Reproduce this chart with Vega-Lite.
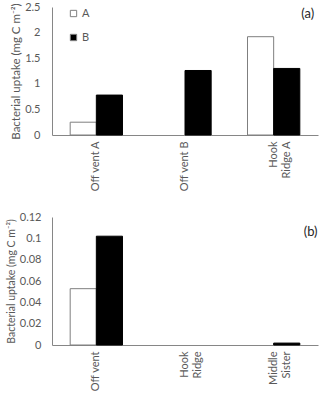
{
  "$schema": "https://vega.github.io/schema/vega-lite/v6.json",
  "padding": {"left": 6, "top": 1, "right": 5, "bottom": 5},
  "config": {
    "view": {"stroke": null},
    "font": "Lato",
    "concat": {"spacing": 19},
    "axis": {
      "labelFont": "Lato", "titleFont": "Lato",
      "labelColor": "#595959", "titleColor": "#595959",
      "domainColor": "#868686", "ticks": false, "grid": false,
      "labelFontSize": 11, "titleFontSize": 11.5, "titleFontWeight": "normal",
      "labelOverlap": false, "titlePadding": 3
    },
    "legend": {"labelFont": "Lato", "labelColor": "#595959", "labelFontSize": 11}
  },
  "vconcat": [
    {
      "width": 266, "height": 128,
      "layer": [
        {
          "data": {"values": [
            {"site": "Off vent A", "series": "A", "uptake": 0.25},
            {"site": "Off vent A", "series": "B", "uptake": 0.78},
            {"site": "Off vent B", "series": "B", "uptake": 1.26},
            {"site": "Hook|Ridge A", "series": "A", "uptake": 1.92},
            {"site": "Hook|Ridge A", "series": "B", "uptake": 1.30}
          ]},
          "mark": {"type": "bar", "strokeWidth": 1},
          "encoding": {
            "x": {"field": "site", "type": "nominal", "sort": null,
              "scale": {"domain": ["Off vent A", "Off vent B", "Hook|Ridge A"], "paddingInner": 0.41, "paddingOuter": 0.205},
              "axis": {"title": null, "labelAngle": -90, "labelPadding": 6, "labelExpr": "split(datum.value, '|')"}},
            "xOffset": {"field": "series", "type": "nominal", "scale": {"domain": ["A", "B"]}},
            "y": {"field": "uptake", "type": "quantitative",
              "scale": {"domain": [0, 2.5], "nice": false},
              "axis": {"title": "Bacterial uptake (mg C m⁻²)", "values": [0, 0.5, 1, 1.5, 2, 2.5], "labelExpr": "format(datum.value, '~g')", "labelPadding": 12, "labelOverlap": false, "labelFlush": false, "labelBound": false}},
            "fill": {"field": "series", "type": "nominal",
              "scale": {"domain": ["A", "B"], "range": ["#ffffff", "#000000"]},
              "legend": {"title": null, "orient": "none", "legendX": 16, "legendY": 1, "symbolType": "square", "symbolSize": 40, "symbolStrokeColor": "#7f7f7f", "symbolStrokeWidth": 1, "rowPadding": 12, "labelOffset": 3}},
            "stroke": {"field": "series", "type": "nominal",
              "scale": {"domain": ["A", "B"], "range": ["#7f7f7f", "#000000"]}, "legend": null}
          }
        },
        {
          "data": {"values": [{"label": "(a)"}]},
          "mark": {"type": "text", "fontSize": 13, "font": "Lato", "color": "#262626", "dx": 34},
          "encoding": {
            "x": {"datum": "Hook|Ridge A", "type": "nominal",
              "axis": {"title": null, "labelAngle": -90, "labelPadding": 6, "labelExpr": "split(datum.value, '|')"}},
            "y": {"datum": 2.36, "type": "quantitative",
              "axis": {"title": "Bacterial uptake (mg C m⁻²)", "values": [0, 0.5, 1, 1.5, 2, 2.5], "labelExpr": "format(datum.value, '~g')", "labelPadding": 12, "labelOverlap": false, "labelFlush": false, "labelBound": false}},
            "text": {"field": "label"}
          }
        }
      ]
    },
    {
      "width": 266, "height": 128,
      "layer": [
        {
          "data": {"values": [
            {"site": "Off vent", "series": "A", "uptake": 0.0528},
            {"site": "Off vent", "series": "B", "uptake": 0.102},
            {"site": "Middle|Sister", "series": "B", "uptake": 0.0018}
          ]},
          "mark": {"type": "bar", "strokeWidth": 1},
          "encoding": {
            "x": {"field": "site", "type": "nominal", "sort": null,
              "scale": {"domain": ["Off vent", "Hook|Ridge", "Middle|Sister"], "paddingInner": 0.41, "paddingOuter": 0.205},
              "axis": {"title": null, "labelAngle": -90, "labelPadding": 6, "labelExpr": "split(datum.value, '|')"}},
            "xOffset": {"field": "series", "type": "nominal", "scale": {"domain": ["A", "B"]}},
            "y": {"field": "uptake", "type": "quantitative",
              "scale": {"domain": [0, 0.12], "nice": false},
              "axis": {"title": "Bacterial uptake (mg C m⁻²)", "titleFontSize": 10.5, "values": [0, 0.02, 0.04, 0.06, 0.08, 0.1, 0.12], "labelExpr": "format(datum.value, '~g')", "labelPadding": 11, "labelOverlap": false, "labelFlush": false, "labelBound": false}},
            "fill": {"field": "series", "type": "nominal",
              "scale": {"domain": ["A", "B"], "range": ["#ffffff", "#000000"]}, "legend": null},
            "stroke": {"field": "series", "type": "nominal",
              "scale": {"domain": ["A", "B"], "range": ["#7f7f7f", "#000000"]}, "legend": null}
          }
        },
        {
          "data": {"values": [{"label": "(b)"}]},
          "mark": {"type": "text", "fontSize": 13, "font": "Lato", "color": "#262626", "dx": 37},
          "encoding": {
            "x": {"datum": "Middle|Sister", "type": "nominal",
              "axis": {"title": null, "labelAngle": -90, "labelPadding": 6, "labelExpr": "split(datum.value, '|')"}},
            "y": {"datum": 0.106, "type": "quantitative",
              "axis": {"title": "Bacterial uptake (mg C m⁻²)", "titleFontSize": 10.5, "values": [0, 0.02, 0.04, 0.06, 0.08, 0.1, 0.12], "labelExpr": "format(datum.value, '~g')", "labelPadding": 11, "labelOverlap": false, "labelFlush": false, "labelBound": false}},
            "text": {"field": "label"}
          }
        }
      ]
    }
  ],
  "resolve": {"scale": {"x": "independent", "y": "independent"}, "legend": {"fill": "independent"}}
}
